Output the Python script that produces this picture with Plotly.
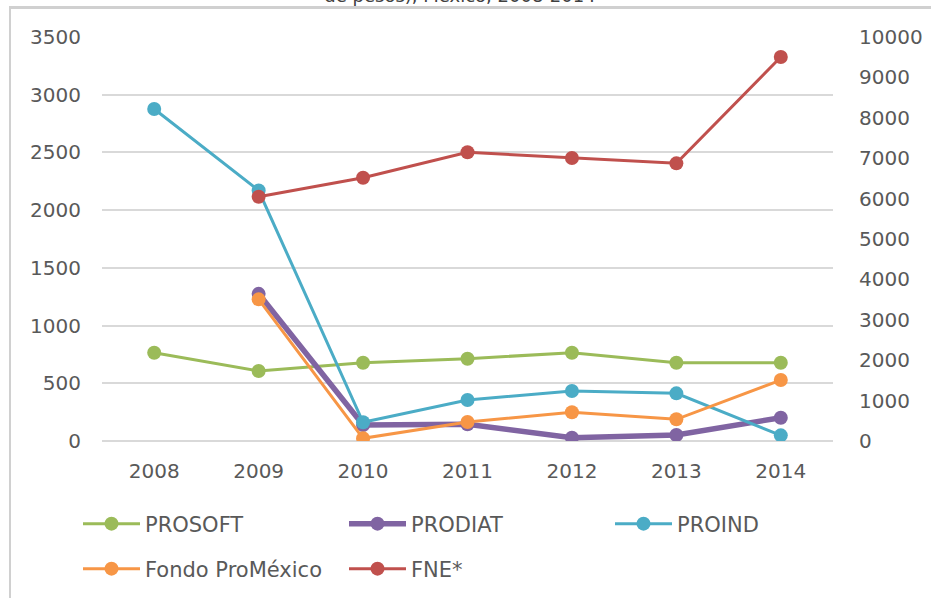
import plotly.graph_objects as go

years = ["2008", "2009", "2010", "2011", "2012", "2013", "2014"]
prosoft = [765, 606, 678, 713, 765, 678, 678]
prodiat = [None, 1275, 139, 145, 29, 52, 202]
proind = [2876, 2170, 162, 355, 433, 413, 49]
fondo_promexico = [None, 1227, 23, 165, 249, 188, 528]
fne = [None, 6047, 6517, 7146, 7005, 6873, 9505]

left_ticks = [0, 500, 1000, 1500, 2000, 2500, 3000, 3500]
right_ticks = [0, 1000, 2000, 3000, 4000, 5000, 6000, 7000, 8000, 9000, 10000]

W, H = 932, 598
ML, MR, MT, MB = 102, 99, 37, 157
PW, PH = W - ML - MR, H - MT - MB


def px_x(x):
    return (x - ML) / PW


def px_y(y):
    return (H - MB - y) / PH


FONT = "Century Gothic, DejaVu Sans, sans-serif"
TXT = "#595959"

fig = go.Figure()


def add(name, vals, color, width, axis, legend):
    fig.add_trace(go.Scatter(
        x=years, y=vals, name=name, mode="lines+markers",
        line=dict(color=color, width=width),
        marker=dict(color=color, size=14),
        yaxis=axis, legend=legend, connectgaps=False,
    ))


add("PROSOFT", prosoft, "#9BBB59", 3, "y", "legend")
add("PRODIAT", prodiat, "#8064A2", 5.5, "y", "legend")
add("PROIND", proind, "#4BACC6", 3, "y", "legend")
add("Fondo ProMéxico", fondo_promexico, "#F79646", 3, "y", "legend2")
add("FNE*", fne, "#C0504D", 3, "y2", "legend2")

legend_common = dict(
    orientation="h", xanchor="left", yanchor="middle",
    font=dict(family=FONT, size=21, color=TXT),
    itemwidth=57, entrywidth=194, entrywidthmode="pixels",
    bgcolor="rgba(0,0,0,0)", borderwidth=0,
    traceorder="normal", itemclick=False,
)

fig.update_layout(
    width=W, height=H,
    margin=dict(l=ML, r=MR, t=MT, b=MB, autoexpand=False),
    paper_bgcolor="white", plot_bgcolor="white",
    showlegend=True,
    legend=dict(x=px_x(78), y=px_y(524), **legend_common),
    legend2=dict(x=px_x(78), y=px_y(569), **legend_common),
    xaxis=dict(
        type="category", range=[-0.5, 6.5], showgrid=False, showline=False,
        zeroline=False, ticks="", ticklabelstandoff=16,
        tickfont=dict(family=FONT, size=20, color=TXT),
    ),
    yaxis=dict(
        range=[0, 3500], tickvals=left_ticks, showgrid=True,
        gridcolor="#D9D9D9", gridwidth=1.5, zeroline=True,
        zerolinecolor="#D9D9D9", zerolinewidth=1.5, showline=False,
        ticks="", ticklabelstandoff=20,
        tickfont=dict(family=FONT, size=20, color=TXT),
    ),
    yaxis2=dict(
        range=[0, 10000], tickvals=right_ticks, tickformat="d",
        overlaying="y", side="right",
        showgrid=False, zeroline=False, showline=False, ticks="",
        ticklabelstandoff=25,
        tickfont=dict(family=FONT, size=20, color=TXT),
    ),
    shapes=[
        dict(type="rect", xref="paper", yref="paper", layer="above",
             x0=px_x(10), x1=px_x(931), y0=px_y(9), y1=px_y(6),
             line=dict(width=0), fillcolor="#D0D0D0"),
        dict(type="line", xref="paper", yref="paper", layer="above",
             x0=px_x(10), x1=px_x(10), y0=px_y(6), y1=px_y(610),
             line=dict(color="#D0D0D0", width=2)),
    ],
    annotations=[
        dict(text="Presupuesto de programas de la Secretaría de Economía (millones<br>de pesos), México, 2008-2014",
             xref="paper", yref="paper", x=px_x(460), y=px_y(8),
             xanchor="center", yanchor="bottom", showarrow=False,
             font=dict(family=FONT, size=18, color="#404040")),
    ],
)

fig.write_html(
    "out.html",
    config={"displayModeBar": False},
    post_script="document.body.style.margin='0';document.body.style.overflow='hidden';",
)
